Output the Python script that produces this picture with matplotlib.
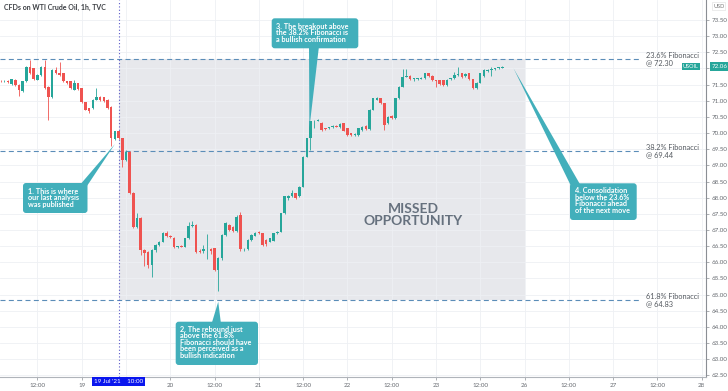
import numpy as np
import matplotlib.pyplot as plt
from matplotlib.patches import FancyBboxPatch, Polygon, Rectangle
from matplotlib.transforms import IdentityTransform

plt.rcParams['font.family'] = ['Lato', 'DejaVu Sans']

# hourly candles, t = hours from 19 Jul 00:00 (weekend removed), first candle at t0
t0 = -22
opens = [71.62, 71.60, 71.61, 71.52, 71.65, 71.49, 71.29, 71.60, 72.04, 72.01,
         71.65, 71.80, 72.06, 71.44, 71.13, 71.96, 71.87, 71.85, 71.60, 71.60,
         71.34, 71.54, 71.39, 70.95, 70.77, 70.77, 71.03, 71.13, 71.11, 71.03,
         70.82, 69.81, 70.05,
         69.84, 69.17, 69.40, 68.14, 67.10, 67.36, 66.38, 66.33, 65.92, 66.38,
         66.54, 66.64, 66.90, 66.80, 66.75, 66.47, 66.52, 66.48, 66.74, 67.12,
         67.14, 66.36, 66.36, 66.40, 66.40, 66.43,
         65.76, 66.12, 66.85, 67.16, 67.08, 66.97, 67.45,
         66.40, 66.40, 66.69, 66.82, 66.95, 66.90, 66.69, 66.64, 66.67, 66.90,
         66.95, 67.52, 67.98, 68.04, 68.14, 68.04, 68.34, 69.27, 69.84, 70.36,
         70.38, 70.30, 70.15, 70.15, 70.18, 70.22, 70.18, 70.30, 70.15, 69.99,
         69.94, 69.94, 70.10, 70.22, 70.12, 70.72, 71.03, 71.08, 70.92, 70.30,
         70.53, 70.46, 71.08, 71.44, 71.75, 71.77, 71.67, 71.67, 71.67, 71.70,
         71.85, 71.77, 71.63, 71.63, 71.63, 71.49, 71.66, 71.70, 71.80, 71.85,
         71.77, 71.85, 71.67, 71.39, 71.56, 71.77, 71.92, 71.96, 71.98, 72.01,
         72.03]
highs = [71.65, 71.63, 71.63, 71.69, 71.67, 71.51, 71.62, 72.08, 72.25, 72.03,
         71.83, 72.08, 72.25, 71.46, 71.98, 72.06, 72.21, 71.87, 71.62, 71.62,
         71.65, 71.56, 71.41, 70.97, 70.79, 71.05, 71.39, 71.15, 71.13, 71.05,
         70.84, 70.08, 70.07,
         69.86, 69.48, 69.45, 68.17, 67.52, 67.40, 66.42, 66.36, 66.40, 66.56,
         66.66, 66.95, 66.96, 66.84, 66.78, 66.52, 66.55, 66.76, 67.26, 67.28,
         67.18, 66.42, 66.55, 66.88, 66.45, 66.45,
         66.15, 66.88, 67.26, 67.20, 67.12, 67.45, 67.57,
         66.45, 66.72, 66.87, 66.95, 66.98, 66.92, 66.72, 66.76, 66.92, 66.97,
         67.54, 68.06, 68.08, 68.24, 68.16, 68.37, 69.29, 69.86, 70.38, 70.41,
         70.44, 70.34, 70.17, 70.19, 70.24, 70.24, 70.30, 70.32, 70.17, 70.01,
         70.00, 70.17, 70.22, 70.24, 70.74, 71.10, 71.13, 71.10, 70.94, 70.53,
         70.55, 71.10, 71.46, 71.98, 71.98, 71.79, 71.72, 71.72, 71.74, 71.87,
         71.87, 71.79, 71.65, 71.65, 71.65, 71.66, 71.72, 71.90, 72.06, 71.87,
         71.85, 71.87, 71.69, 71.58, 71.86, 71.98, 71.98, 72.06, 72.03, 72.06,
         72.07]
lows = [71.57, 71.58, 71.55, 71.50, 71.47, 71.15, 71.27, 71.58, 71.83, 71.65,
        71.63, 71.78, 71.37, 70.41, 71.10, 71.83, 71.78, 71.58, 71.52, 71.37,
        71.32, 71.34, 70.93, 70.70, 70.62, 70.75, 71.01, 71.00, 70.96, 70.75,
        69.59, 69.79, 69.82,
        68.96, 69.15, 68.12, 67.05, 67.05, 66.23, 65.90, 65.82, 65.56, 66.33,
        66.50, 66.62, 66.78, 66.74, 66.43, 66.44, 66.46, 66.46, 66.72, 67.08,
        66.30, 66.30, 66.30, 66.10, 66.25, 65.74,
        65.10, 66.08, 66.82, 66.96, 66.93, 66.95, 66.36,
        66.35, 66.38, 66.66, 66.80, 66.88, 66.52, 66.52, 66.62, 66.65, 66.88,
        66.93, 67.50, 67.93, 68.02, 67.96, 68.02, 68.32, 69.25, 69.48, 70.15,
        70.36, 70.08, 70.10, 70.12, 70.16, 70.18, 70.16, 70.06, 69.92, 69.92,
        69.92, 69.92, 70.08, 70.10, 70.10, 70.70, 71.01, 70.90, 70.10, 70.28,
        70.44, 70.44, 71.06, 71.42, 71.73, 71.65, 71.62, 71.65, 71.66, 71.68,
        71.75, 71.61, 71.44, 71.50, 71.47, 71.47, 71.64, 71.68, 71.78, 71.71,
        71.75, 71.65, 71.37, 71.37, 71.54, 71.75, 71.90, 71.77, 71.96, 71.99,
        72.01]
closes = [71.60, 71.61, 71.57, 71.67, 71.49, 71.32, 71.60, 72.04, 71.85, 71.67,
          71.80, 72.06, 71.39, 71.13, 71.96, 71.85, 71.80, 71.60, 71.54, 71.39,
          71.56, 71.36, 70.95, 70.72, 70.67, 71.03, 71.13, 71.03, 70.98, 70.77,
          69.84, 70.05, 69.84,
          69.17, 69.43, 68.14, 67.10, 67.36, 66.38, 66.28, 65.92, 66.38, 66.54,
          66.64, 66.90, 66.80, 66.77, 66.47, 66.50, 66.48, 66.74, 67.12, 67.16,
          66.33, 66.33, 66.40, 66.42, 66.36, 65.76,
          66.12, 66.85, 67.21, 67.00, 66.97, 67.41, 66.40,
          66.42, 66.69, 66.85, 66.90, 66.90, 66.54, 66.56, 66.74, 66.90, 66.95,
          67.52, 68.04, 68.05, 68.14, 67.98, 68.34, 69.27, 69.84, 70.36, 70.38,
          70.41, 70.10, 70.12, 70.18, 70.22, 70.20, 70.28, 70.08, 69.94, 69.94,
          69.98, 70.15, 70.20, 70.12, 70.72, 71.08, 71.08, 70.92, 70.25, 70.51,
          70.46, 71.08, 71.44, 71.75, 71.77, 71.67, 71.70, 71.70, 71.72, 71.85,
          71.77, 71.63, 71.60, 71.52, 71.49, 71.63, 71.70, 71.80, 71.83, 71.73,
          71.83, 71.67, 71.39, 71.56, 71.85, 71.96, 71.96, 71.98, 72.01, 72.03,
          72.06]

fib_names = ['23.6% Fibonacci', '38.2% Fibonacci', '61.8% Fibonacci']
fib_levels = [72.30, 69.44, 64.83]
last_price = 72.06
publish_t = 10      # 19 Jul '21 10:00
zone_end = 120      # start of the 26th

xticks = [-12, 0, 12, 24, 36, 48, 60, 72, 84, 96, 108, 120, 132, 144, 156, 168]
xlabels = ['12:00', '19', '', '20', '12:00', '21', '12:00', '22', '12:00', '23',
           '12:00', '26', '12:00', '27', '12:00', '28']
yticks = np.arange(62.5, 73.51, 0.5)

notes = ["1. This is where\nour last analysis\nwas published",
         "2. The rebound just\nabove the 61.8%\nFibonacci should have\nbeen perceived as a\nbullish indication",
         "3. The breakout above\nthe 38.2% Fibonacci is\na bullish confirmation",
         "4. Consolidation\nbelow the 23.6%\nFibonacci ahead\nof the next move"]
# what each note points at (hour, price)
note_tips = [(9.0, 69.66), (37.0, 64.78), (61.7, 70.15), (117.0, 72.01)]

GREEN = '#26a69a'
RED = '#ef5350'
TEAL = '#42afbb'

W, H = 728, 391
fig = plt.figure(figsize=(W / 100, H / 100), dpi=100)
ax = fig.add_axes([0, 14 / H, 705.7 / W, 377 / H])
ax.set_xlim(-22.14, 169.1)
ax.set_ylim(62.45, 74.12)

o = np.array(opens); h = np.array(highs); l = np.array(lows); c = np.array(closes)
t = np.arange(len(o)) + t0
col = np.where(c >= o, GREEN, RED)
ax.vlines(t, l, h, colors=col, lw=0.6, zorder=3)
ax.bar(t, np.maximum(np.abs(c - o), 0.025), bottom=np.minimum(o, c), width=0.68,
       color=col, linewidth=0, zorder=4)

# missed opportunity zone
ax.add_patch(Rectangle((publish_t, fib_levels[2]), zone_end - publish_t,
                       fib_levels[0] - fib_levels[2], fc='#e7e8ec', ec='none', zorder=0.3))
ax.text((publish_t + zone_end) / 2 + 24.8, 67.48, 'MISSED\nOPPORTUNITY', ha='center', va='center',
        fontsize=10, weight='bold', color='#66717e', linespacing=1.0, zorder=5)

# fibonacci levels, label on two lines next to the right end of each line
for name, lev in zip(fib_names, fib_levels):
    ax.hlines(lev, -22.14, 151, colors='#5b8db8', linestyles=(0, (4.5, 3)), lw=0.8, zorder=2)
    ax.text(152.8, lev, name, ha='left', va='bottom', fontsize=5.3,
            color='#555a60', zorder=5)
    ax.text(152.8, lev, f'@ {lev:.2f}', ha='left', va='top', fontsize=5.3,
            color='#555a60', zorder=5)

ax.axvline(publish_t, color='#5a5ac8', ls=(0, (1, 2)), lw=0.8, zorder=2)

# axes look
ax.set_axisbelow(True)
ax.grid(True, color='#eef0f4', lw=0.6)
for s in ['left', 'top']:
    ax.spines[s].set_visible(False)
ax.spines['right'].set_color('#8a8e94')
ax.spines['bottom'].set_color('#b0b4ba')
ax.yaxis.tick_right()
ax.set_yticks(yticks)
# the 72.00 label sits under the last price tag
ax.set_yticklabels(['' if abs(v - 72.0) < 1e-6 else f'{v:.2f}' for v in yticks])
ax.set_xticks(xticks)
ax.set_xticklabels(xlabels)
ax.tick_params(axis='both', labelsize=4.5, labelcolor='#666a70', color='#8a8e94',
               length=2, width=0.5, pad=2)

ax.text(publish_t, -0.006, "19 Jul '21    10:00", transform=ax.get_xaxis_transform(),
        ha='center', va='top', fontsize=4.5, color='white', clip_on=False, zorder=6,
        bbox=dict(boxstyle='square,pad=0.35', fc='#0a16ee', ec='none'))
yt = ax.get_yaxis_transform()
ax.text(0.99, last_price, 'USOIL', transform=yt, ha='right', va='center', fontsize=4,
        color='white', clip_on=False, bbox=dict(boxstyle='square,pad=0.25', fc=GREEN, ec='none'))
ax.text(1.008, last_price, f'{last_price:.2f}', transform=yt, ha='left', va='center', fontsize=4.5,
        color='white', clip_on=False, bbox=dict(boxstyle='square,pad=0.25', fc=GREEN, ec='none'))
fig.text(713 / W, 1 - 6 / H, 'USD', fontsize=4, color='#777', va='center',
         bbox=dict(boxstyle='square,pad=0.2', fc='white', ec='#dddddd', lw=0.4))

fig.text(4 / W, 1 - 7 / H, 'CFDs on WTI Crude Oil, 1h, TVC', fontsize=5, weight='bold',
         color='#3a3d42', va='center')

# callouts: box (left, top, right, bottom) and pointer base in reference pixels
boxes = [(23, 183, 87.5, 213), (175.7, 321.7, 258, 365), (271.7, 18.3, 358.3, 48.3),
         (570, 183.3, 636.7, 220)]
bases = [((79, 186), (87, 186)), ((211.5, 324), (221, 324)), ((309, 46), (319, 46)),
         ((571, 186), (581, 186))]
pads = [(5, 4.5), (4, 4), (4.5, 4.5), (5, 4)]
ident = IdentityTransform()
for (x0, y0, x1, y1), base, tip, txt, (px, py) in zip(boxes, bases, note_tips, notes, pads):
    fig.add_artist(FancyBboxPatch((x0, H - y1), x1 - x0, y1 - y0,
                                  boxstyle='round,pad=0,rounding_size=3',
                                  fc=TEAL, ec='none', transform=ident, zorder=5))
    tx, ty = ax.transData.transform(tip)
    fig.add_artist(Polygon([(base[0][0], H - base[0][1]), (base[1][0], H - base[1][1]), (tx, ty)],
                           closed=True, fc=TEAL, ec='none', transform=ident, zorder=5))
    fig.text(x0 + px, H - y0 - py, txt, transform=ident, ha='left', va='top', fontsize=5.2,
             weight='bold', color='white', linespacing=0.92, zorder=6)

fig.savefig('out.png', dpi=100)
